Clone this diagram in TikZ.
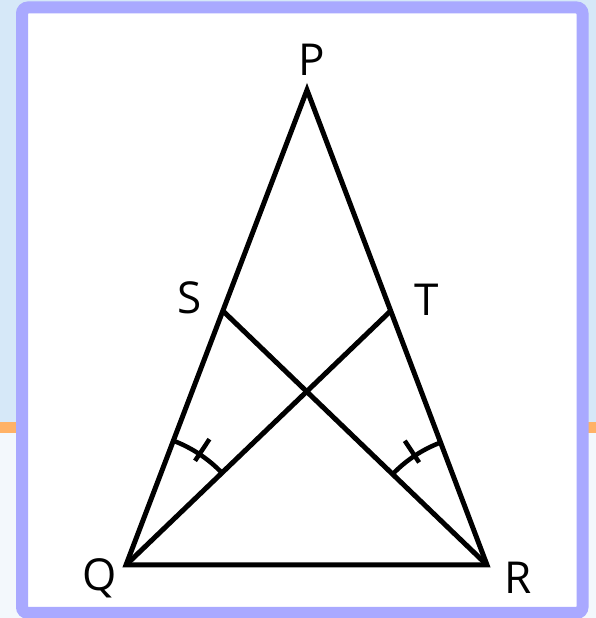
\documentclass[tikz,border=0pt]{standalone}
\usepackage{fontspec}
\setmainfont{Open Sans}
\usetikzlibrary{calc}
\definecolor{bgtop}{HTML}{D6E8F8}
\definecolor{bgbot}{HTML}{F3F8FC}
\definecolor{bandor}{HTML}{FFB266}
\definecolor{framebl}{HTML}{A9A9FF}
\tikzset{
  seg/.style={line width=5pt, black},
  anglemk/.style={line width=4.5pt, black},
  lbl/.style={font=\fontsize{44}{48}\selectfont, inner sep=0pt, text=black},
}
\begin{document}
\begin{tikzpicture}[x=1pt,y=1pt]
\useasboundingbox (0,0) rectangle (596,618);
% background
\fill[bgbot] (0,0) rectangle (596,618);
\fill[bgtop] (0,196) rectangle (596,618);
\fill[bandor] (0,185) rectangle (596,196);
% frame
\fill[white] (22,5) rectangle (582.5,610.5);
\draw[framebl, line width=12pt, rounded corners=6pt] (22,5) rectangle (582.5,610.5);
% points
\coordinate (P) at (307,528);
\coordinate (Q) at (126,53);
\coordinate (R) at (487,53);
\coordinate (S) at ($(P)!0.465!(Q)$);
\coordinate (T) at ($(P)!0.465!(R)$);
% triangle and cevians
\draw[seg] (P) -- (Q) -- (R) -- cycle;
\draw[seg] (S) -- (R);
\draw[seg] (T) -- (Q);
% angle marks
\draw[anglemk] (Q) ++(69.14:133) arc[start angle=69.14, end angle=43.78, radius=133];
\draw[anglemk] (Q) ++(56.46:125) -- ++(56.46:26);
\draw[anglemk] (R) ++(110.86:131) arc[start angle=110.86, end angle=136.11, radius=131];
\draw[anglemk] (R) ++(123.5:123) -- ++(123.5:26);
% labels
\node[lbl] (lP) at (312,558) {P};
\node[lbl] (lS) at (190,320) {S};
\node[lbl] (lT) at (427,318) {T};
\node[lbl] (lQ) at (100,40) {Q};
\node[lbl] (lR) at (518,40) {R};
\end{tikzpicture}
\end{document}
